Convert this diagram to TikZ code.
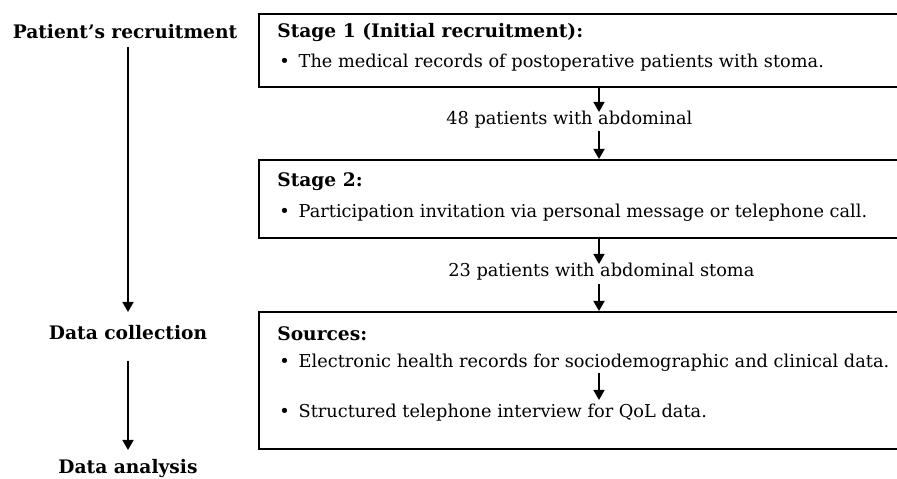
\documentclass[tikz,border=0pt]{standalone}
\usepackage{fontspec}
\setmainfont{DejaVu Serif}
\usetikzlibrary{arrows.meta}
\tikzset{
	box/.style={draw, line width=0.9pt, inner sep=0pt, anchor=north west, minimum width=13cm},
	arr/.style={line width=1pt, -{Triangle[width=0.22cm, length=0.2cm]}},
	head/.style={font=\bfseries\fontsize{10.6}{12}\selectfont, anchor=west, inner sep=0pt},
	item/.style={font=\fontsize{10.1}{12}\selectfont, anchor=west, inner sep=0pt},
	side/.style={font=\bfseries\fontsize{10.6}{12}\selectfont, inner sep=0pt}
}

\begin{document}
\begin{tikzpicture}
			%%%%% START %%%%%
			\useasboundingbox (0, 0) rectangle (17.94, 9.58);
			
			% left column
			\node[side] (recruit) at (2.50, 8.94) {Patient's recruitment};
			\node[side] (collect) at (2.56, 2.92) {Data collection};
			\node[side] (analysis) at (2.56, 0.22) {Data analysis};
			\coordinate (r1) at (2.56, 8.64);
			\coordinate (r2) at (2.56, 3.34);
			\coordinate (r3) at (2.56, 2.36);
			\coordinate (r4) at (2.56, 0.58);
			\draw[arr] (r1) -- (r2);
			\draw[arr] (r3) -- (r4);
			
			% boxes
			\node[box, minimum height=1.46cm] (stageA) at (5.16, 9.32) {};
			\node[box, minimum height=1.56cm] (stageB) at (5.16, 6.40) {};
			\node[box, minimum height=2.74cm] (sources) at (5.16, 3.36) {};
			
			\node[head] (stageAhead) at (5.54, 8.94) {Stage 1 (Initial recruitment):};
			\node[item] (stageAitem) at (5.58, 8.32) {\textbullet\enspace The medical records of postoperative patients with stoma.};
			
			\node[head] (stageBhead) at (5.54, 5.94) {Stage 2:};
			\node[item] (stageBitem) at (5.58, 5.32) {\textbullet\enspace Participation invitation via personal message or telephone call.};
			
			\node[head] (srchead) at (5.54, 2.90) {Sources:};
			\node[item] (srcA) at (5.58, 2.32) {\textbullet\enspace Electronic health records for sociodemographic and clinical data.};
			\node[item] (srcB) at (5.58, 1.32) {\textbullet\enspace Structured telephone interview for QoL data.};
			
			% counts between the boxes
			\node[item] (countA) at (8.92, 7.18) {48 patients with abdominal};
			\node[item] (countB) at (8.96, 4.14) {23 patients with abdominal stoma};
			
			\coordinate (a1) at (11.98, 7.34);
			\coordinate (a2) at (11.98, 6.96);
			\coordinate (b1) at (11.98, 4.30);
			\coordinate (b2) at (11.98, 3.90);
			\coordinate (c1) at (11.98, 2.12);
			\coordinate (c2) at (11.98, 1.58);
			\draw[arr] (stageA.south -| a1) -- (a1);
			\draw[arr] (a2) -- (a2 |- stageB.north);
			\draw[arr] (stageB.south -| b1) -- (b1);
			\draw[arr] (b2) -- (b2 |- sources.north);
			\draw[arr] (c1) -- (c2);
			%%%%% END %%%%%
\end{tikzpicture}
\end{document}
